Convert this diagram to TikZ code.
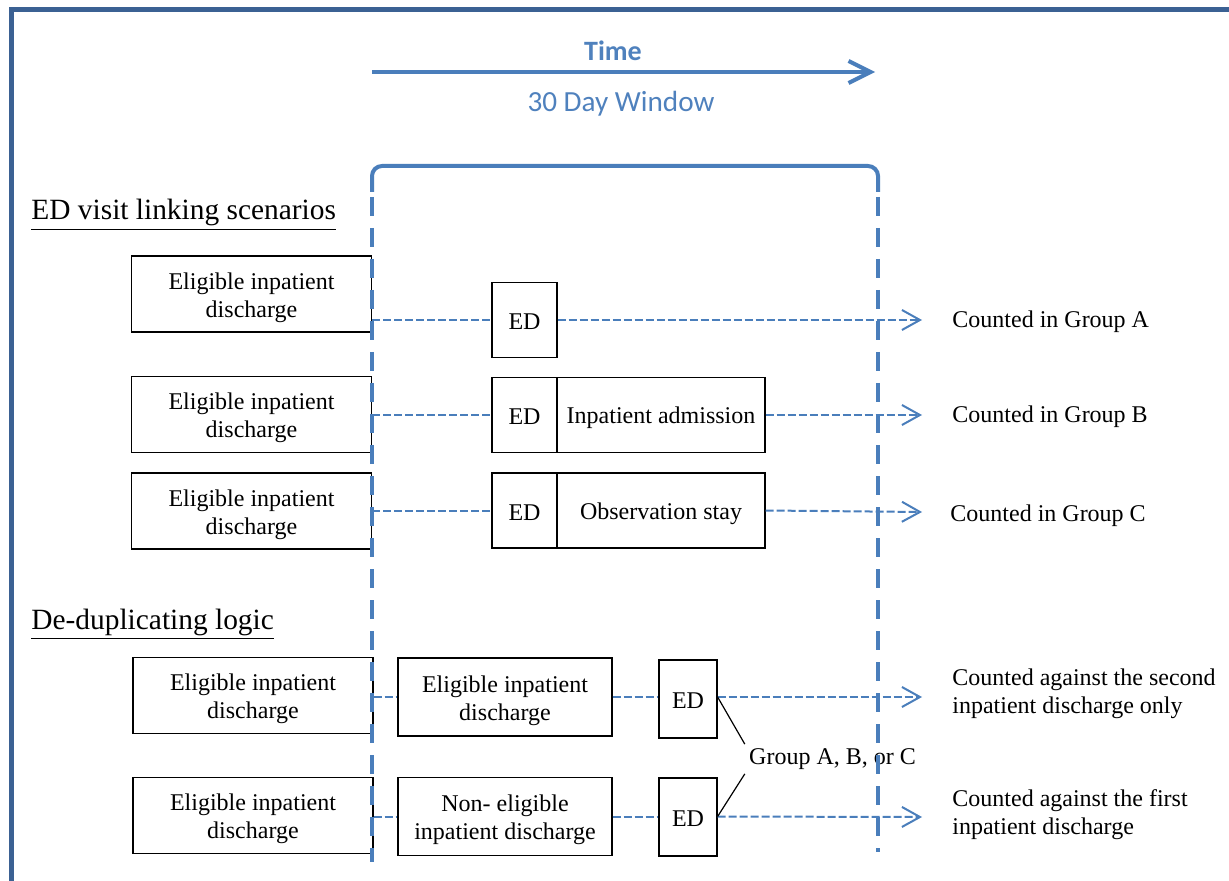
\documentclass[tikz,border=0pt]{standalone}
\usepackage{fontspec}
\setmainfont{Liberation Serif}
\newfontfamily\calibri{Carlito}
\usetikzlibrary{arrows.meta}
\definecolor{linkblue}{HTML}{4A7EBB}
\definecolor{frameblue}{HTML}{3B6193}
\definecolor{textblue}{HTML}{4F81BD}

\begin{document}
\begin{tikzpicture}[x=0.5pt, y=-0.5pt, font=\fontsize{12}{14}\selectfont]
        \tikzstyle{box}=[draw, line width=0.6pt, align=center, inner sep=0pt]
        \tikzstyle{dis}=[box, minimum width=120pt, minimum height=38pt, text height=25.7pt]
        \tikzstyle{ed}=[box, minimum width=32.5pt, minimum height=37.5pt, text height=10pt]
        \tikzstyle{stay}=[box, minimum width=104pt, minimum height=37.5pt, text height=11.5pt]
        \tikzstyle{mid}=[box, minimum width=107pt, minimum height=39pt, text height=25.7pt]
        \tikzstyle{edsmall}=[box, minimum width=29pt, minimum height=39pt, text height=10pt]
        \tikzstyle{link}=[draw=linkblue, line width=1pt, dash pattern=on 4pt off 1.5pt]
        \tikzstyle{linkarrow}=[link, -{Straight Barb[length=9pt, width=10pt]}]
        \tikzstyle{window}=[draw=linkblue, line width=2pt]
        \tikzstyle{count}=[anchor=west, inner sep=0pt, align=left]
        \tikzstyle{heading}=[anchor=base west, inner sep=0pt, font=\fontsize{14.7}{17}\selectfont]

        \useasboundingbox (0,0) rectangle (1229,881);
        \draw[frameblue, line width=2.5pt] (11.5,895) -- (11.5,10) -- (1240,10);

        \node[text=textblue, font=\calibri\bfseries\fontsize{14}{17}\selectfont] (time) at (613,51) {Time};
        \node[text=textblue, font=\calibri\fontsize{14.6}{17}\selectfont] (days) at (621,104) {30 Day Window};
        \coordinate (t0) at (372,72);
        \coordinate (t1) at (875,72);
        \draw[window, -{Straight Barb[length=11pt, width=11pt]}] (t0) -- (t1);

        \node[heading] (head1) at (31,220) {\underline{ED visit linking scenarios}};
        \node[heading] (head2) at (31,629) {\underline{De-duplicating logic}};

        \node[dis] (lbA) at (251.5,294) {Eligible inpatient\\discharge};
        \node[ed] (edA) at (524.5,320) {ED};
        \node[count] (cntA) at (952,322) {Counted in Group A};
        \coordinate (tipA) at (922,320);

        \node[dis] (lbB) at (251.5,414.5) {Eligible inpatient\\discharge};
        \node[ed] (edB) at (524.5,415) {ED};
        \node[stay] (adB) at (661,415) {Inpatient admission};
        \node[count] (cntB) at (952,417) {Counted in Group B};
        \coordinate (tipB) at (922,415);

        \node[dis] (lbC) at (251.5,511) {Eligible inpatient\\discharge};
        \node[ed] (edC) at (524.5,510.5) {ED};
        \node[stay] (obC) at (661,510.5) {Observation stay};
        \node[count] (cntC) at (950,516) {Counted in Group C};
        \coordinate (tipC) at (922,512);

        \node[dis] (lbD) at (253,695.5) {Eligible inpatient\\discharge};
        \node[mid] (midD) at (505,697) {Eligible inpatient\\discharge};
        \node[edsmall] (edD) at (688,699) {ED};
        \node[count] (cntD) at (952,694) {Counted against the second\\inpatient discharge only};
        \coordinate (tipD) at (922,697);

        \node[dis] (lbE) at (253,815.5) {Eligible inpatient\\discharge};
        \node[mid] (midE) at (505,816.5) {Non- eligible\\inpatient discharge};
        \node[edsmall] (edE) at (688,817) {ED};
        \node[count] (cntE) at (952,815) {Counted against the first\\inpatient discharge};
        \coordinate (tipE) at (922,817);

        \node[inner sep=2pt] (grp) at (832.5,759) {Group A, B, or C};

        \draw[window, rounded corners=5pt] (372,192) -- (372,166) -- (878,166) -- (878,192);
        \draw[window, dash pattern=on 9.5pt off 6pt] (372,197) -- (372,862);
        \draw[window, dash pattern=on 9.5pt off 6pt] (878,197) -- (878,852);

        \draw[link] (lbA.east |- edA.west) -- (edA.west);
        \draw[linkarrow] (edA.east) -- (tipA);
        \draw[link] (lbB.east |- edB.west) -- (edB.west);
        \draw[linkarrow] (adB.east) -- (tipB);
        \draw[link] (lbC.east |- edC.west) -- (edC.west);
        \draw[linkarrow] (obC.east) -- (tipC);
        \draw[link] (lbD.east |- midD.west) -- (midD.west);
        \draw[link] (midD.east) -- (edD.west |- midD.east);
        \draw[linkarrow] (edD.east |- midD.east) -- (tipD);
        \draw[link] (lbE.east |- midE.west) -- (midE.west);
        \draw[link] (midE.east) -- (edE.west |- midE.east);
        \draw[linkarrow] (edE.east |- midE.east) -- (tipE);

        \draw[line width=0.6pt] (edD.east |- midD.east) -- (grp.north west);
        \draw[line width=0.6pt] (edE.east |- midE.east) -- (grp.south west);
\end{tikzpicture}
\end{document}
